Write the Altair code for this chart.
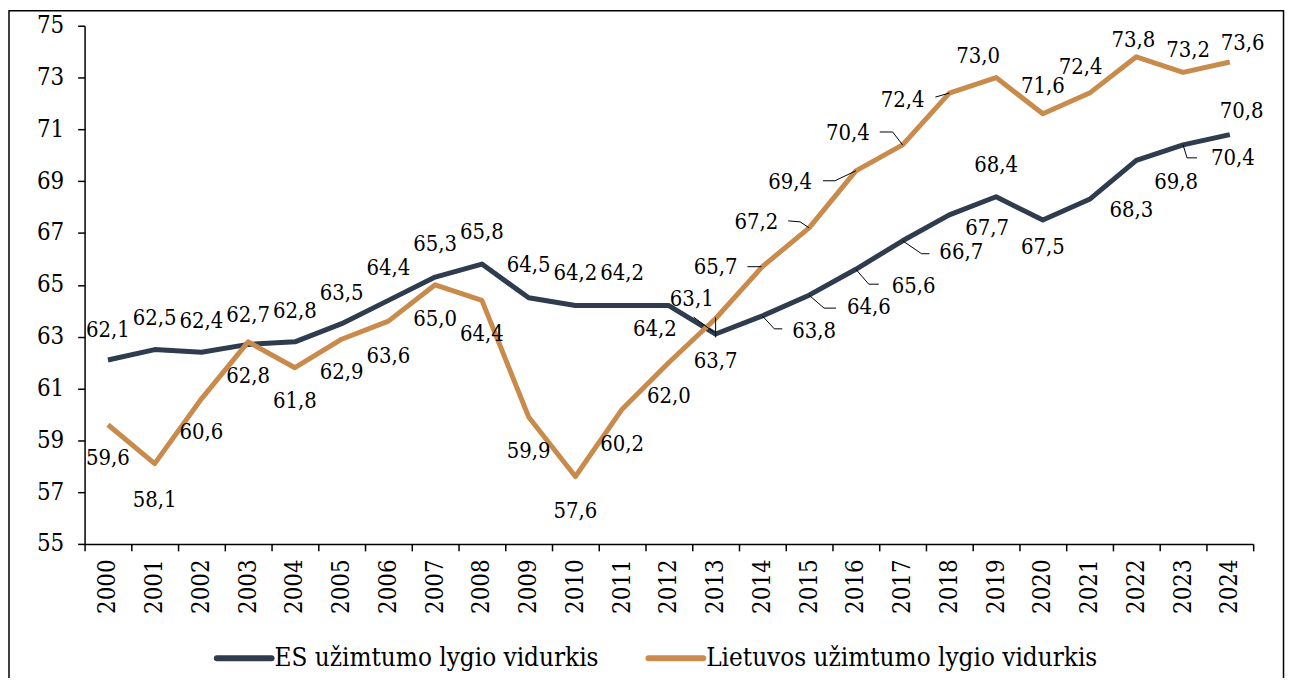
import altair as alt
import pandas as pd

YEARS = list(range(2000, 2025))
ES_VALUES = [62.1, 62.5, 62.4, 62.7, 62.8, 63.5, 64.4, 65.3, 65.8, 64.5, 64.2, 64.2, 64.2,
             63.1, 63.8, 64.6, 65.6, 66.7, 67.7, 68.4, 67.5, 68.3, 69.8, 70.4, 70.8]
LT_VALUES = [59.6, 58.1, 60.6, 62.8, 61.8, 62.9, 63.6, 65.0, 64.4, 59.9, 57.6, 60.2, 62.0,
             63.7, 65.7, 67.2, 69.4, 70.4, 72.4, 73.0, 71.6, 72.4, 73.8, 73.2, 73.6]
SERIES = ["ES užimtumo lygio vidurkis", "Lietuvos užimtumo lygio vidurkis"]
COLORS = ["#2E3C4E", "#C98B4B"]
Y_TICKS = [55, 57, 59, 61, 63, 65, 67, 69, 71, 73, 75]

ES_LABEL_DX = [0, 0, 0, 0, 0, 0, 0, 0, 0, 0, 0, 0, -14, -24, 52, 60, 58, 59, 38, 0, 0, 42, 40, 50, 12]
ES_LABEL_DY = [-30, -32, -31, -30, -31, -31, -33, -33, -32, -33, -33, -33, 24, -35, 15, 12, 17, 11, 13,
               -32, 27, 11, 22, 13, -24]
LT_LABEL_DX = [0, 0, 0, 0, 0, 0, 0, 0, 0, 0, 0, 0, 0, 0, -47, -53, -66, -55, -47, -18, 0, -9, -3, 5, 13]
LT_LABEL_DY = [34, 37, 33, 34, 33, 33, 35, 34, 34, 34, 35, 35, 34, 43, 0, -6, 11, -12, 7, -22, -28,
               -26, -17, -22, -19]

LEADERS = [
    (0, 2013, [(-22, -17), (-2, -2)]),
    (0, 2014, [(0, 0), (12, 13), (20, 13)]),
    (0, 2015, [(0, 0), (15, 13), (27, 13)]),
    (0, 2016, [(0, 0), (13, 15), (23, 15)]),
    (0, 2017, [(0, 0), (19, 13), (27, 13)]),
    (0, 2023, [(0, 0), (4, 13), (14, 13)]),
    (1, 2013, [(0, -1), (0, 19)]),
    (1, 2014, [(-15, 0), (-1, 0)]),
    (1, 2015, [(-21, -7), (-9, -6), (0, 0)]),
    (1, 2016, [(-33, 10), (-21, 10), (0, 0)]),
    (1, 2017, [(-23, -13), (-10, -13), (0, 0)]),
    (1, 2018, [(-14, 4), (0, 0)]),
]

# legend layout (pixels from the plot's left edge)
LEGEND_X = [133, 567]
LEGEND_SYMBOL_LEN = 55
LEGEND_Y = 636

W, H = 1175, 521
FONT = "DejaVu Serif Condensed, DejaVu Serif"

rows = []
for s, vals, dxs, dys in [(SERIES[0], ES_VALUES, ES_LABEL_DX, ES_LABEL_DY),
                          (SERIES[1], LT_VALUES, LT_LABEL_DX, LT_LABEL_DY)]:
    for y, v, dx, dy in zip(YEARS, vals, dxs, dys):
        rows.append({"year": str(y), "series": s, "value": v,
                     "label": f"{v:.1f}".replace(".", ","), "dx": dx, "dy": dy})
df = pd.DataFrame(rows)

lrows = []
for i, (si, yr, pts) in enumerate(LEADERS):
    v = (ES_VALUES if si == 0 else LT_VALUES)[YEARS.index(yr)]
    for k, (ox, oy) in enumerate(pts):
        lrows.append({"lid": i, "year": str(yr), "value": v, "ox": ox, "oy": oy, "k": k})
ldf = pd.DataFrame(lrows)

legdf = pd.DataFrame({
    "series": SERIES,
    "x0": LEGEND_X,
    "x1": [x + LEGEND_SYMBOL_LEN for x in LEGEND_X],
    "tx": [x + LEGEND_SYMBOL_LEN + 3 for x in LEGEND_X],
})

x_enc = alt.X(
    "year:O",
    bandPosition=0.5,
    scale=alt.Scale(type="band", paddingInner=0, paddingOuter=0, domain=[str(y) for y in YEARS]),
    axis=alt.Axis(title=None, labelAngle=-90, labelAlign="right", labelBaseline="middle",
                  labelFont=FONT, labelFontSize=24, labelColor="black", labelPadding=8,
                  tickBand="extent", tickSize=7, tickColor="black", tickWidth=1.5,
                  domainColor="black", domainWidth=1.5, grid=False),
)
y_scale = alt.Scale(domain=[55, 75], nice=False, zero=False)
y_enc = alt.Y(
    "value:Q", scale=y_scale,
    axis=alt.Axis(title=None, values=Y_TICKS, labelFont=FONT, labelFontSize=24, labelColor="black",
                  labelPadding=14, tickSize=7, tickColor="black", tickWidth=1.5,
                  domainColor="black", domainWidth=1.5, grid=False),
)
color_scale = alt.Scale(domain=SERIES, range=COLORS)

base = alt.Chart(df)

lines = base.mark_line(strokeWidth=5, strokeJoin="round").encode(
    x=x_enc, y=y_enc, color=alt.Color("series:N", scale=color_scale, legend=None), detail="series:N"
)

labels = base.mark_text(font=FONT, fontSize=22, color="black", align="center", baseline="middle",
                        dx=alt.expr("datum.dx"), dy=alt.expr("datum.dy")).encode(
    x=x_enc, y=alt.Y("value:Q", scale=y_scale), text="label:N"
)

leaders = alt.Chart(ldf).mark_line(color="black", strokeWidth=1,
                                   xOffset=alt.expr("datum.ox"), yOffset=alt.expr("datum.oy")).encode(
    x=x_enc, y=alt.Y("value:Q", scale=y_scale), detail="lid:N", order="k:Q"
)

leg_sym = alt.Chart(legdf).mark_rule(strokeWidth=6, strokeCap="round").encode(
    x=alt.X("x0:Q", scale=None), x2="x1:Q", y=alt.value(LEGEND_Y),
    color=alt.Color("series:N", scale=color_scale, legend=None),
)
leg_txt = alt.Chart(legdf).mark_text(font=FONT, fontSize=26, color="black", align="left",
                                     baseline="middle").encode(
    x=alt.X("tx:Q", scale=None), y=alt.value(LEGEND_Y), text="series:N"
)

frame = alt.Chart(alt.Data(values=[{}])).mark_rect(fill="transparent", stroke="black", strokeWidth=1.5).encode(
    x=alt.value(-76), x2=alt.value(W + 30.5), y=alt.value(-15), y2=alt.value(H + 200)
)

chart = alt.layer(frame, lines, leaders, labels, leg_sym, leg_txt).properties(
    width=W, height=H,
    autosize=alt.AutoSizeParams(type="none"),
    padding={"left": 77, "top": 16, "right": 32, "bottom": 670 - 16 - H},
).configure_view(stroke="transparent")

chart.save("out.html", embed_options={"renderer": "svg", "actions": False})
